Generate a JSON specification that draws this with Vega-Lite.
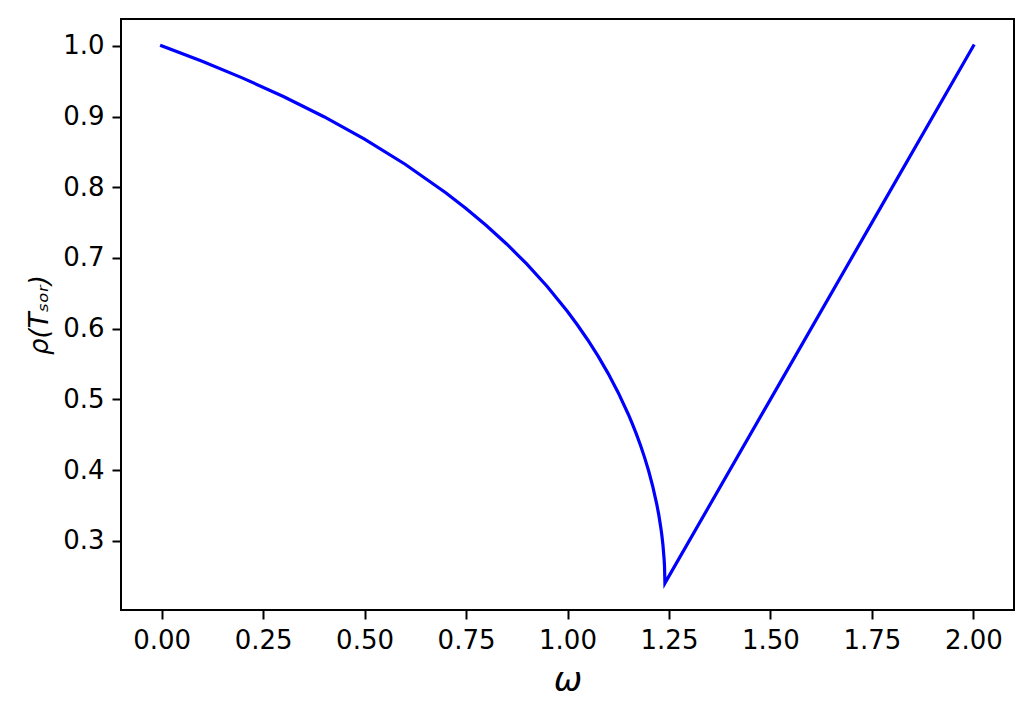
{
  "$schema": "https://vega.github.io/schema/vega-lite/v6.json",
  "width": 893,
  "height": 591,
  "autosize": {"type": "none"},
  "padding": {"left": 121, "top": 19, "right": 19, "bottom": 111},
  "background": "white",
  "config": {
    "view": {"stroke": "black", "strokeWidth": 2},
    "axis": {
      "labelFont": "DejaVu Sans",
      "labelFontSize": 26,
      "labelColor": "black",
      "tickColor": "black",
      "tickSize": 9,
      "tickWidth": 2,
      "domain": false,
      "grid": false,
      "labelPadding": 8,
      "titleFont": "DejaVu Sans",
      "titleFontWeight": "normal",
      "titleColor": "black"
    }
  },
  "data": {
    "values": [
      {"w": 0.0, "rho": 1.0},
      {"w": 0.1, "rho": 0.97814},
      {"w": 0.2, "rho": 0.95437},
      {"w": 0.3, "rho": 0.92838},
      {"w": 0.4, "rho": 0.89979},
      {"w": 0.5, "rho": 0.86807},
      {"w": 0.6, "rho": 0.83256},
      {"w": 0.7, "rho": 0.7923},
      {"w": 0.75, "rho": 0.76998},
      {"w": 0.8, "rho": 0.7459},
      {"w": 0.85, "rho": 0.71977},
      {"w": 0.9, "rho": 0.69118},
      {"w": 0.95, "rho": 0.65961},
      {"w": 1.0, "rho": 0.6243},
      {"w": 1.025, "rho": 0.60483},
      {"w": 1.05, "rho": 0.58397},
      {"w": 1.075, "rho": 0.56139},
      {"w": 1.1, "rho": 0.53672},
      {"w": 1.125, "rho": 0.50941},
      {"w": 1.15, "rho": 0.47857},
      {"w": 1.16, "rho": 0.46494},
      {"w": 1.17, "rho": 0.45038},
      {"w": 1.18, "rho": 0.43468},
      {"w": 1.19, "rho": 0.41756},
      {"w": 1.2, "rho": 0.39858},
      {"w": 1.21, "rho": 0.377},
      {"w": 1.22, "rho": 0.35141},
      {"w": 1.225, "rho": 0.3362},
      {"w": 1.23, "rho": 0.31817},
      {"w": 1.2325, "rho": 0.30748},
      {"w": 1.235, "rho": 0.29479},
      {"w": 1.238, "rho": 0.27411},
      {"w": 1.239, "rho": 0.26365},
      {"w": 1.24, "rho": 0.24},
      {"w": 1.5, "rho": 0.5},
      {"w": 1.75, "rho": 0.75},
      {"w": 2.0, "rho": 1.0}
    ]
  },
  "mark": {"type": "line", "color": "#0000ff", "strokeWidth": 3.2, "clip": true, "strokeCap": "square"},
  "encoding": {
    "x": {
      "field": "w", "type": "quantitative",
      "scale": {"domain": [-0.1, 2.1], "nice": false, "zero": false},
      "axis": {"values": [0, 0.25, 0.5, 0.75, 1.0, 1.25, 1.5, 1.75, 2.0], "format": ".2f",
               "title": "ω", "titleFontSize": 34, "titleFontStyle": "italic", "titlePadding": 10}
    },
    "y": {
      "field": "rho", "type": "quantitative",
      "scale": {"domain": [0.202, 1.038], "nice": false, "zero": false},
      "axis": {"values": [0.3, 0.4, 0.5, 0.6, 0.7, 0.8, 0.9, 1.0], "format": ".1f",
               "title": "ρ(Tₛₒᵣ)", "titleFontSize": 26, "titleFontStyle": "italic", "titlePadding": 10}
    }
  }
}
